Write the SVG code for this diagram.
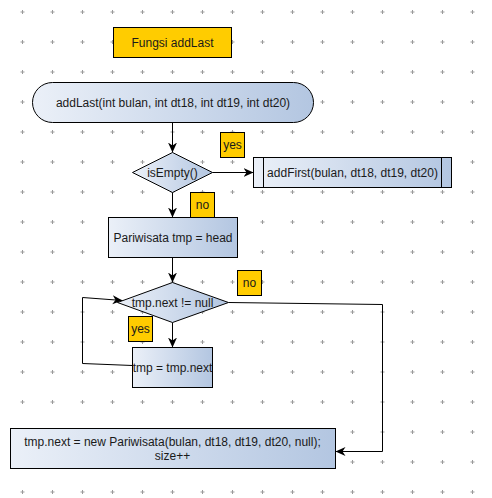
<svg xmlns="http://www.w3.org/2000/svg" width="492" height="498" viewBox="0 0 492 498">
<defs>
<pattern id="grid" x="0" y="0" width="30" height="30" patternUnits="userSpaceOnUse">
<path d="M20.5,12 H24.5 M22.5,10 V14" stroke="#9a9a9a" stroke-width="1"/>
</pattern>
<linearGradient id="g" x1="0" y1="0" x2="1" y2="0">
<stop offset="0" stop-color="#EBF0F8"/>
<stop offset="1" stop-color="#B3C6E1"/>
</linearGradient>
<marker id="arr" markerUnits="userSpaceOnUse" markerWidth="12" markerHeight="12" refX="10" refY="5" orient="auto" viewBox="0 0 12 10">
<path d="M0,0.5 L10,5 L0,9.5 L3,5 Z" fill="#000"/>
</marker>
</defs>
<style>
.sh{stroke:#000;stroke-width:1;}
.lbl{fill:#FFCC00;stroke:#000;stroke-width:1;}
.t{font-family:"Liberation Sans",Arial,sans-serif;font-size:12px;fill:#1a1a1a;text-anchor:middle;}
.e{fill:none;stroke:#000;stroke-width:1;}
</style>
<rect width="492" height="498" fill="#fff"/>
<rect width="492" height="498" fill="url(#grid)"/>

<g id="connectors">
<path class="e" d="M172.5,122.5 V152.5" marker-end="url(#arr)"/>
<path class="e" d="M212.5,172.5 H253.5" marker-end="url(#arr)"/>
<path class="e" d="M172.5,192.5 V217.5" marker-end="url(#arr)"/>
<path class="e" d="M172.5,257.5 V282.5" marker-end="url(#arr)"/>
<path class="e" d="M172.5,322.5 V347.5" marker-end="url(#arr)"/>
<path class="e" d="M132.5,365.5 L82.5,363.5 V297.5 L122.5,300.5" marker-end="url(#arr)"/>
<path class="e" d="M228.5,302.5 L382.5,304.5 V451.5 H335.5" marker-end="url(#arr)"/>
</g>

<g id="title">
<rect class="lbl" x="113.5" y="27.5" width="118" height="30"/>
<text class="t" x="172.5" y="46.5">Fungsi addLast</text>
</g>

<g id="start">
<rect class="sh" x="32.5" y="82.5" width="281" height="40" rx="20" ry="20" fill="url(#g)"/>
<text class="t" x="173" y="106.5">addLast(int bulan, int dt18, int dt19, int dt20)</text>
</g>

<g id="isEmpty">
<polygon class="sh" points="172.5,152.5 212.5,172.5 172.5,192.5 132.5,172.5" fill="url(#g)"/>
<text class="t" x="172.5" y="176.5">isEmpty()</text>
</g>

<g id="yes1">
<rect class="lbl" x="220.5" y="132.5" width="24" height="25"/>
<text class="t" x="232.5" y="149">yes</text>
</g>

<g id="addFirst">
<rect class="sh" x="253.5" y="157.5" width="198" height="30" fill="url(#g)"/>
<path class="sh" d="M263.5,157.5 V187.5 M441.5,157.5 V187.5" fill="none"/>
<text class="t" x="352.5" y="176.5">addFirst(bulan, dt18, dt19, dt20)</text>
</g>

<g id="no1">
<rect class="lbl" x="190.5" y="192.5" width="24" height="25"/>
<text class="t" x="202.5" y="209">no</text>
</g>

<g id="tmpHead">
<rect class="sh" x="108.5" y="217.5" width="129" height="40" fill="url(#g)"/>
<text class="t" x="173" y="241.5">Pariwisata tmp = head</text>
</g>

<g id="whileCond">
<polygon class="sh" points="172.5,282.5 228.5,302.5 172.5,322.5 117.5,302.5" fill="url(#g)"/>
<text class="t" x="172.5" y="306.5">tmp.next != null</text>
</g>

<g id="no2">
<rect class="lbl" x="237.5" y="270.5" width="24" height="25"/>
<text class="t" x="249.5" y="287">no</text>
</g>

<g id="yes2">
<rect class="lbl" x="128.5" y="316.5" width="24" height="25"/>
<text class="t" x="140.5" y="333">yes</text>
</g>

<g id="tmpNext">
<rect class="sh" x="132.5" y="347.5" width="80" height="40" fill="url(#g)"/>
<text class="t" x="172.5" y="371.5">tmp = tmp.next</text>
</g>

<g id="append">
<rect class="sh" x="10.5" y="428.5" width="325" height="40" fill="url(#g)"/>
<text class="t" x="172.5" y="446">tmp.next = new Pariwisata(bulan, dt18, dt19, dt20, null);</text>
<text class="t" x="172.5" y="460">size++</text>
</g>
</svg>
